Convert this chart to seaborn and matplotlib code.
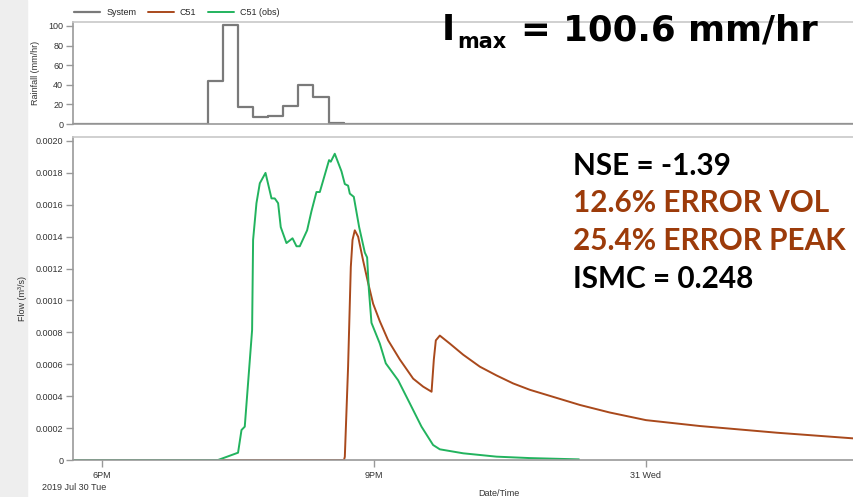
import matplotlib
matplotlib.use("Agg")
import pandas as pd
import matplotlib.pyplot as plt
import seaborn as sns

# ---- data (time in hours from 00:00 on 2019 Jul 30) ----
rain_time = [17.6, 19.1667, 19.3333, 19.5, 19.6667, 19.8333, 20.0,
             20.1667, 20.3333, 20.5, 20.6667, 27.2]
rain_vals = [0, 44, 100.6, 17.3, 6.8, 7.8, 18, 39.5, 27.5, 1.4, 0, 0]

obs_time = [17.6, 19.28, 19.501, 19.539, 19.575, 19.656, 19.667, 19.704, 19.741,
            19.804, 19.87, 19.906, 19.943, 19.972, 20.035, 20.102, 20.146, 20.182,
            20.263, 20.311, 20.366, 20.403, 20.505, 20.524, 20.568, 20.642, 20.679,
            20.715, 20.734, 20.778, 20.837, 20.9, 20.925, 20.944, 20.973, 21.065,
            21.131, 21.267, 21.396, 21.525, 21.653, 21.727, 21.985, 22.353, 22.721,
            23.262]
obs_flow = [0, 0, 0.0000458, 0.000188, 0.000209, 0.000815, 0.00138, 0.00161, 0.001735,
            0.0018, 0.00164, 0.00164, 0.00161, 0.00146, 0.00136, 0.00139, 0.00134, 0.00134,
            0.00144, 0.00156, 0.00168, 0.00168, 0.00188, 0.00187, 0.00192, 0.00181, 0.00173,
            0.00172, 0.00167, 0.00165, 0.00146, 0.0013, 0.00127, 0.00107, 0.00086, 0.00073,
            0.000606, 0.0005, 0.000355, 0.000209, 0.000094, 0.000067, 0.000042, 0.000021,
            0.000012, 0.000004]

sim_time = [17.6, 20.67, 20.679, 20.715, 20.745, 20.764, 20.789, 20.826, 20.881,
            20.936, 20.991, 21.065, 21.157, 21.286, 21.433, 21.543, 21.636, 21.661,
            21.683, 21.727, 21.837, 21.985, 22.169, 22.353, 22.536, 22.721, 23.273,
            23.6, 24.001, 24.597, 25.447, 26.35]
sim_flow = [0, 0, 0.00002, 0.000585, 0.00121, 0.00138, 0.00144, 0.0014, 0.00125,
            0.00111, 0.00098, 0.00087, 0.00075, 0.00063, 0.00051, 0.00046, 0.000428, 0.00063,
            0.00075, 0.00078, 0.00073, 0.00066, 0.000585, 0.00053, 0.00048, 0.00044, 0.000345,
            0.000298, 0.00025, 0.000213, 0.000171, 0.000133]

tick_hours = [18, 21, 24]
tick_labels = ["6PM", "9PM", "31 Wed"]
stats_lines = ["NSE = -1.39", "12.6% ERROR VOL", "25.4% ERROR PEAK", "ISMC = 0.248"]
stats_colors = ["black", "#9c3b0a", "#9c3b0a", "black"]

rain = pd.DataFrame({"time": rain_time, "rain": rain_vals})
obs = pd.DataFrame({"time": obs_time, "flow": obs_flow})
sim = pd.DataFrame({"time": sim_time, "flow": sim_flow})

GRAY = "#7a7a7a"
BROWN = "#a9491c"
GREEN = "#22b35e"

sns.set_style("white")
plt.rcParams["font.family"] = ["Liberation Sans Narrow", "Liberation Sans", "DejaVu Sans"]

W, H = 854, 497
fig = plt.figure(figsize=(W / 100, H / 100), dpi=100)
fig.patches.append(plt.Rectangle((0, 0), 27 / W, 1, transform=fig.transFigure,
                                 color="#eeeeee", zorder=-10))

x0, x1 = 17.68, 27.08
left = 73 / W
width = (925 - 73) / W
ax_r = fig.add_axes([left, 1 - 124 / H, width, 102 / H])
ax_f = fig.add_axes([left, 1 - 460 / H, width, 323 / H])

# rainfall
sns.lineplot(data=rain, x="time", y="rain", ax=ax_r, color=GRAY, lw=1.6,
             drawstyle="steps-post", label="System", legend=False)
ax_r.set_xlim(x0, x1)
ax_r.set_ylim(0, 104)
ax_r.set_yticks([0, 20, 40, 60, 80, 100])
ax_r.set_xticks([])
ax_r.set_xlabel("")
ax_r.set_ylabel("Rainfall (mm/hr)", fontsize=6.5, color="#333333", labelpad=6)

# flow
sns.lineplot(data=sim, x="time", y="flow", ax=ax_f, color=BROWN, lw=1.4,
             label="C51", legend=False)
sns.lineplot(data=obs, x="time", y="flow", ax=ax_f, color=GREEN, lw=1.4,
             label="C51 (obs)", legend=False)
ax_f.set_xlim(x0, x1)
ax_f.set_ylim(0, 0.002025)
yt = [0, 0.0002, 0.0004, 0.0006, 0.0008, 0.0010, 0.0012, 0.0014, 0.0016, 0.0018, 0.0020]
ax_f.set_yticks(yt)
ax_f.set_yticklabels(["0"] + [f"{v:.4f}" for v in yt[1:]])
ax_f.set_xticks(tick_hours)
ax_f.set_xticklabels(tick_labels)
ax_f.set_xlabel("Date/Time", fontsize=6.5, color="#333333", labelpad=6.5)
ax_f.set_ylabel("Flow (m\u00b3/s)", fontsize=6.5, color="#333333", labelpad=6)

for ax in (ax_r, ax_f):
    ax.spines["right"].set_visible(False)
    ax.spines["top"].set_color("#c8c8c8")
    ax.spines["left"].set_color("#999999")
    ax.spines["bottom"].set_color("#999999")
    for s in ax.spines.values():
        s.set_linewidth(1.2)
    ax.tick_params(axis="both", length=5, width=1, color="#999999",
                   labelsize=6.5, labelcolor="#333333", pad=2)
    ax.tick_params(axis="y", left=True)
ax_f.tick_params(axis="x", bottom=True, pad=3)

fig.text(42 / W, 1 - 487 / H, "2019 Jul 30 Tue", fontsize=6.5, color="#333333",
         va="center", ha="left")

# legend
handles = ax_r.get_lines()[:1] + ax_f.get_lines()[:2]
fig.legend(handles, ["System", "C51", "C51 (obs)"], loc="upper left",
           bbox_to_anchor=(74 / W, 1 - 8 / H), ncol=3, frameon=False, fontsize=6.5,
           handlelength=2.9, columnspacing=1.3, handletextpad=0.65,
           borderpad=0, borderaxespad=0)

# annotations
title_font = dict(family=["DejaVu Sans"], fontweight="bold", color="black")
fig.text(442 / W, 1 - 40 / H, "I", fontsize=25.6, va="baseline", **title_font)
fig.text(457 / W, 1 - 48 / H, "max", fontsize=15, va="baseline", **title_font)
fig.text(521 / W, 1 - 40 / H, "= 100.6 mm/hr", fontsize=25.6, va="baseline", **title_font)

stat_base = [175, 212.5, 250, 287.5]
for t, c, yb in zip(stats_lines, stats_colors, stat_base):
    fig.text(573 / W, 1 - yb / H, t, fontsize=21.4, va="baseline",
             family=["Lato", "DejaVu Sans"], fontweight="bold", color=c)

fig.savefig("out.png", dpi=100)
